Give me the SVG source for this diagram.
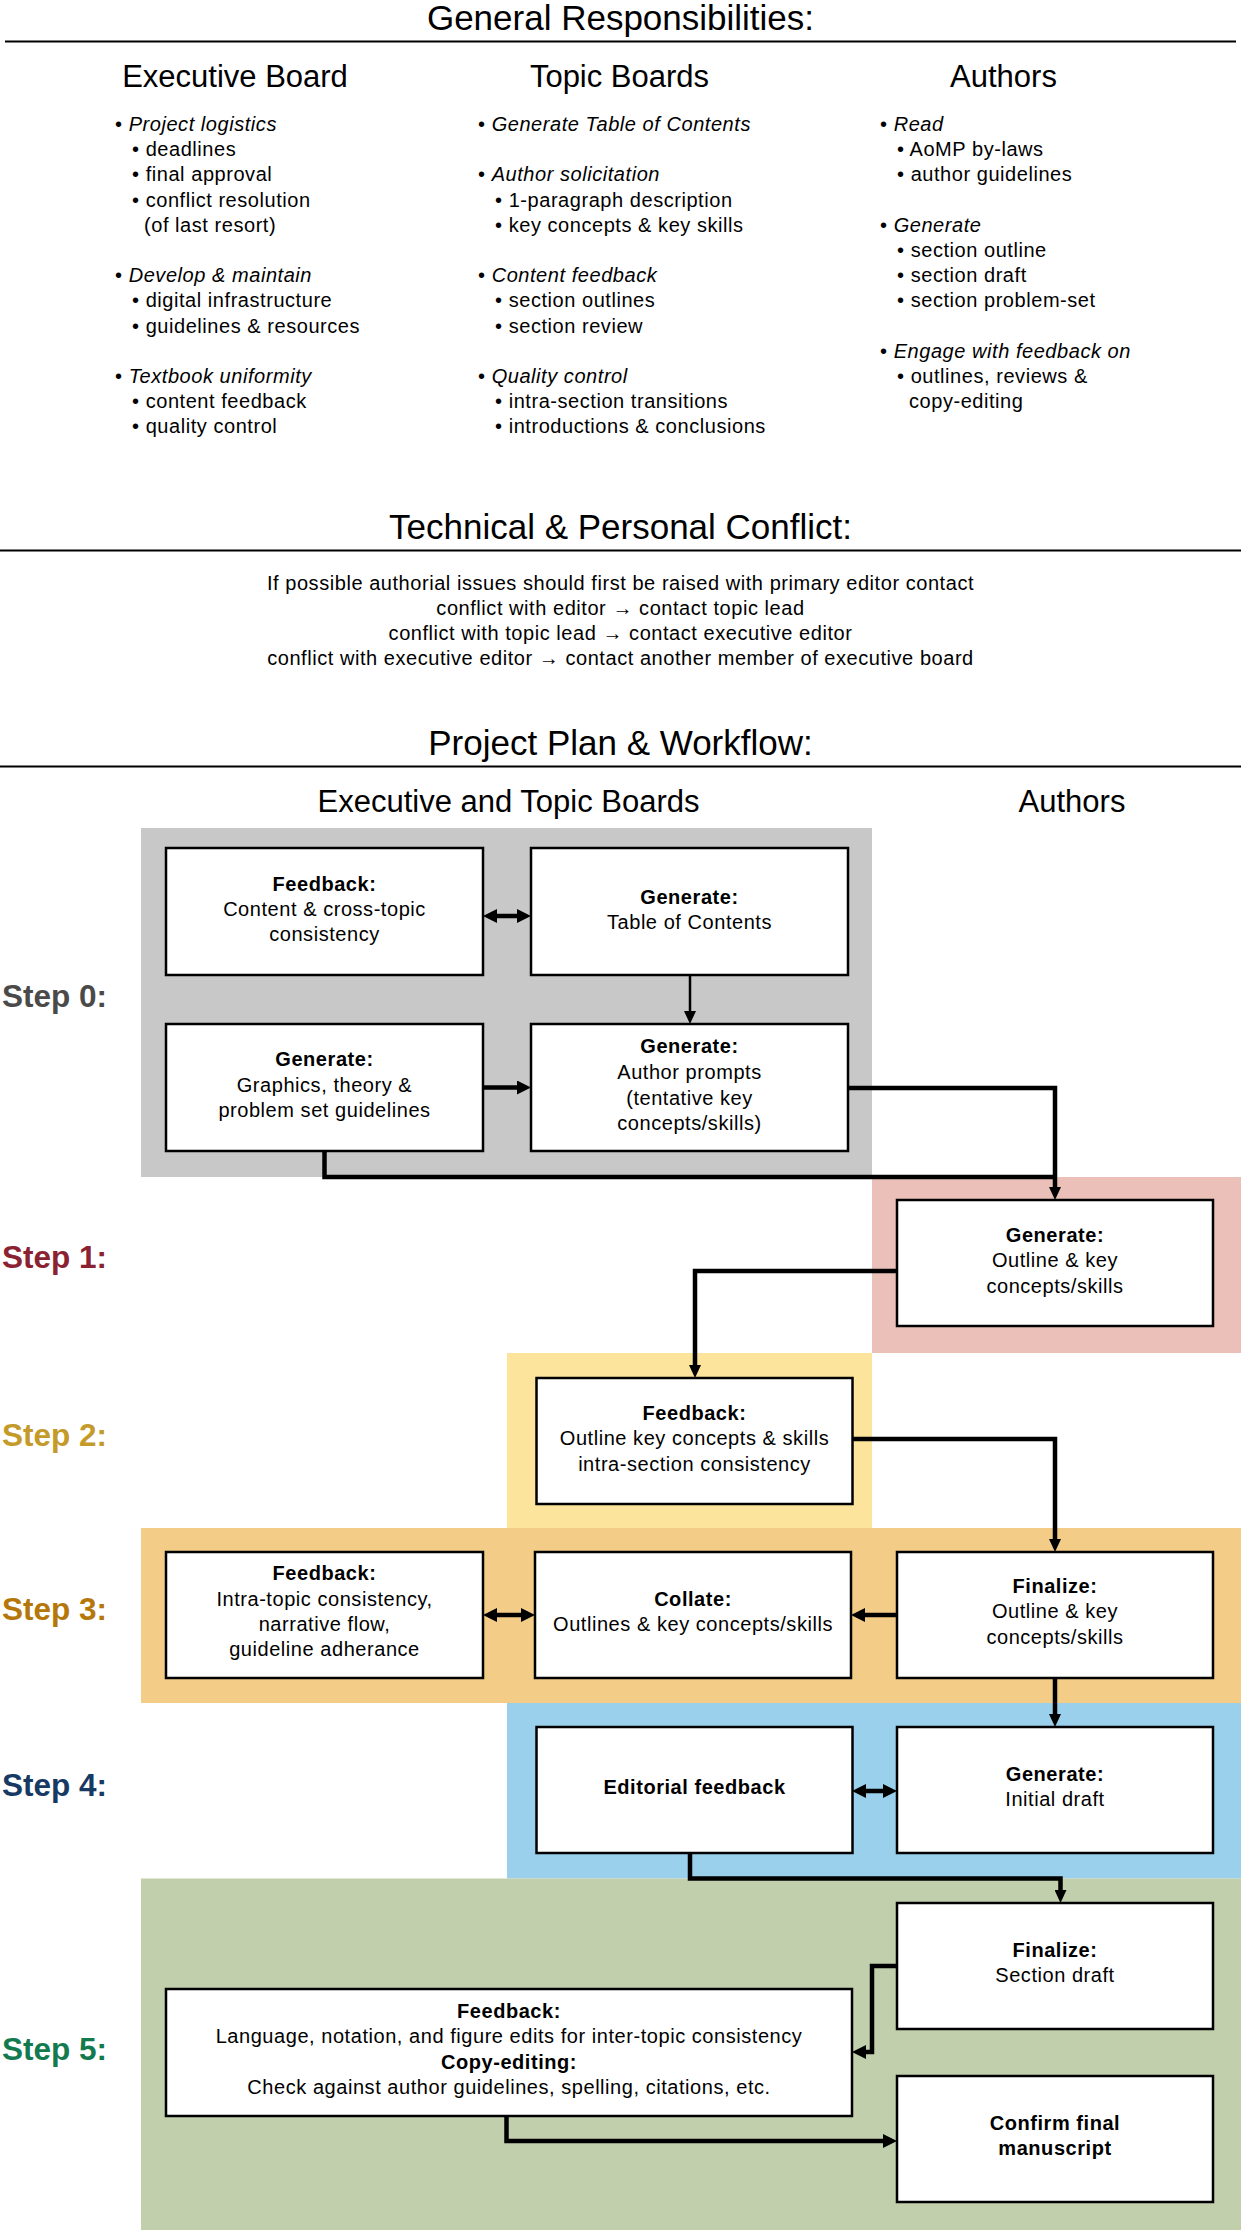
<svg xmlns="http://www.w3.org/2000/svg" width="1241" height="2230" viewBox="0 0 1241 2230">
<style>
text{font-family:"Liberation Sans",Arial,Helvetica,sans-serif;fill:#000}
.h1{font-size:35px;text-anchor:middle}
.h2{font-size:31px;text-anchor:middle}
.b{font-size:20px;letter-spacing:0.55px}
.c{font-size:20px;letter-spacing:0.55px;text-anchor:middle}
.bold{font-weight:bold}
.i{font-style:italic}
.step{font-size:31.5px;font-weight:bold}
.box{fill:#fff;stroke:#000;stroke-width:2.5}
.rule{stroke:#000;stroke-width:2.2}
.con{fill:none;stroke:#000;stroke-width:4.5;stroke-linejoin:miter}
.thin{fill:none;stroke:#000;stroke-width:2.5}
</style>
<defs>
<marker id="ah" markerUnits="userSpaceOnUse" markerWidth="14" markerHeight="14" refX="0" refY="7" orient="auto-start-reverse">
<path d="M0,0 L14,7 L0,14 z" fill="#000"/>
</marker>
<marker id="ahs" markerUnits="userSpaceOnUse" markerWidth="13" markerHeight="12" refX="0" refY="6" orient="auto">
<path d="M0,0 L13,6 L0,12 z" fill="#000"/>
</marker>
</defs>

<!-- Section 1 -->
<g id="general">
<text class="h1" x="620.5" y="30">General Responsibilities:</text>
<line class="rule" x1="5" y1="41.5" x2="1236" y2="41.5"/>
<text class="h2" x="235" y="87">Executive Board</text>
<text class="h2" x="619.5" y="87">Topic Boards</text>
<text class="h2" x="1003.5" y="87">Authors</text>
</g>
<g id="col-exec">
<text class="b" x="115" y="131">• <tspan class="i">Project logistics</tspan></text>
<text class="b" x="132" y="156.2">• deadlines</text>
<text class="b" x="132" y="181.4">• final approval</text>
<text class="b" x="132" y="206.6">• conflict resolution</text>
<text class="b" x="144" y="231.8">(of last resort)</text>
<text class="b" x="115" y="282.2">• <tspan class="i">Develop &amp; maintain</tspan></text>
<text class="b" x="132" y="307.4">• digital infrastructure</text>
<text class="b" x="132" y="332.6">• guidelines &amp; resources</text>
<text class="b" x="115" y="383">• <tspan class="i">Textbook uniformity</tspan></text>
<text class="b" x="132" y="408.2">• content feedback</text>
<text class="b" x="132" y="433.4">• quality control</text>
</g>
<g id="col-topic">
<text class="b" x="478" y="131">• <tspan class="i">Generate Table of Contents</tspan></text>
<text class="b" x="478" y="181.4">• <tspan class="i">Author solicitation</tspan></text>
<text class="b" x="495" y="206.6">• 1-paragraph description</text>
<text class="b" x="495" y="231.8">• key concepts &amp; key skills</text>
<text class="b" x="478" y="282.2">• <tspan class="i">Content feedback</tspan></text>
<text class="b" x="495" y="307.4">• section outlines</text>
<text class="b" x="495" y="332.6">• section review</text>
<text class="b" x="478" y="383">• <tspan class="i">Quality control</tspan></text>
<text class="b" x="495" y="408.2">• intra-section transitions</text>
<text class="b" x="495" y="433.4">• introductions &amp; conclusions</text>
</g>
<g id="col-authors">
<text class="b" x="880" y="131">• <tspan class="i">Read</tspan></text>
<text class="b" x="897" y="156.2">• AoMP by-laws</text>
<text class="b" x="897" y="181.4">• author guidelines</text>
<text class="b" x="880" y="231.8">• <tspan class="i">Generate</tspan></text>
<text class="b" x="897" y="257">• section outline</text>
<text class="b" x="897" y="282.2">• section draft</text>
<text class="b" x="897" y="307.4">• section problem-set</text>
<text class="b" x="880" y="357.8">• <tspan class="i">Engage with feedback on</tspan></text>
<text class="b" x="897" y="383">• outlines, reviews &amp;</text>
<text class="b" x="909" y="408.2">copy-editing</text>
</g>

<!-- Section 2 -->
<g id="conflict">
<text class="h1" x="620.5" y="539">Technical &amp; Personal Conflict:</text>
<line class="rule" x1="0" y1="550.5" x2="1241" y2="550.5"/>
<text class="c" x="620.5" y="589.7">If possible authorial issues should first be raised with primary editor contact</text>
<text class="c" x="620.5" y="614.7">conflict with editor → contact topic lead</text>
<text class="c" x="620.5" y="640.2">conflict with topic lead → contact executive editor</text>
<text class="c" x="620.5" y="665.3">conflict with executive editor → contact another member of executive board</text>
</g>

<!-- Section 3 -->
<g id="workflow-head">
<text class="h1" x="620.5" y="755">Project Plan &amp; Workflow:</text>
<line class="rule" x1="0" y1="766.5" x2="1241" y2="766.5"/>
<text class="h2" x="508.5" y="812">Executive and Topic Boards</text>
<text class="h2" x="1072" y="812">Authors</text>
</g>

<g id="regions">
<rect x="141" y="828" width="731" height="349" fill="#c8c8c8"/>
<rect x="872" y="1177" width="369" height="176" fill="#ebc0b9"/>
<rect x="507" y="1353" width="365" height="175" fill="#fde49c"/>
<rect x="141" y="1528" width="1100" height="175" fill="#f3cd88"/>
<rect x="507" y="1703" width="734" height="175.5" fill="#9bd0ec"/>
<rect x="141" y="1878.5" width="1100" height="351.5" fill="#c2cfac"/>
</g>

<g id="step-labels">
<text class="step" x="2" y="1007" style="fill:#4a4a4a">Step 0:</text>
<text class="step" x="2" y="1267.5" style="fill:#8b2232">Step 1:</text>
<text class="step" x="2" y="1445.5" style="fill:#c49a2a">Step 2:</text>
<text class="step" x="2" y="1620" style="fill:#b5770a">Step 3:</text>
<text class="step" x="2" y="1796" style="fill:#163a63">Step 4:</text>
<text class="step" x="2" y="2060" style="fill:#137a4f">Step 5:</text>
</g>

<g id="connectors">
<line class="con" x1="497" y1="916" x2="517" y2="916" marker-start="url(#ah)" marker-end="url(#ah)"/>
<line class="thin" x1="690" y1="975" x2="690" y2="1011" marker-end="url(#ahs)"/>
<line class="con" x1="483" y1="1087.5" x2="517" y2="1087.5" marker-end="url(#ah)"/>
<path class="con" d="M848,1088 H1055 V1187" marker-end="url(#ahs)"/>
<path class="con" d="M324.5,1151 V1177 H1055"/>
<path class="con" d="M897,1271 H695 V1365" marker-end="url(#ahs)"/>
<path class="con" d="M852,1439 H1055 V1539" marker-end="url(#ahs)"/>
<line class="con" x1="897" y1="1615" x2="865" y2="1615" marker-end="url(#ah)"/>
<line class="con" x1="497" y1="1615" x2="521" y2="1615" marker-start="url(#ah)" marker-end="url(#ah)"/>
<line class="con" x1="1055" y1="1678" x2="1055" y2="1714" marker-end="url(#ahs)"/>
<line class="con" x1="866" y1="1791" x2="883" y2="1791" marker-start="url(#ah)" marker-end="url(#ah)"/>
<path class="con" d="M690,1853 V1878.5 H1060.5 V1890" marker-end="url(#ahs)"/>
<path class="con" d="M897,1966 H872 V2052 H866" marker-end="url(#ah)"/>
<path class="con" d="M506.5,2116 V2141 H883" marker-end="url(#ah)"/>
</g>

<g id="n-feedback0">
<rect class="box" x="166" y="848" width="317" height="127"/>
<text class="c bold" x="324.5" y="891">Feedback:</text>
<text class="c" x="324.5" y="916">Content &amp; cross-topic</text>
<text class="c" x="324.5" y="941">consistency</text>
</g>
<g id="n-toc">
<rect class="box" x="531" y="848" width="317" height="127"/>
<text class="c bold" x="689.5" y="903.5">Generate:</text>
<text class="c" x="689.5" y="928.5">Table of Contents</text>
</g>
<g id="n-graphics">
<rect class="box" x="166" y="1024" width="317" height="127"/>
<text class="c bold" x="324.5" y="1066">Generate:</text>
<text class="c" x="324.5" y="1091.5">Graphics, theory &amp;</text>
<text class="c" x="324.5" y="1117">problem set guidelines</text>
</g>
<g id="n-prompts">
<rect class="box" x="531" y="1024" width="317" height="127"/>
<text class="c bold" x="689.5" y="1053">Generate:</text>
<text class="c" x="689.5" y="1079">Author prompts</text>
<text class="c" x="689.5" y="1104.5">(tentative key</text>
<text class="c" x="689.5" y="1129.5">concepts/skills)</text>
</g>
<g id="n-outline1">
<rect class="box" x="897" y="1200" width="316" height="126"/>
<text class="c bold" x="1055" y="1242">Generate:</text>
<text class="c" x="1055" y="1267">Outline &amp; key</text>
<text class="c" x="1055" y="1292.5">concepts/skills</text>
</g>
<g id="n-feedback2">
<rect class="box" x="536.5" y="1378" width="316" height="126"/>
<text class="c bold" x="694.5" y="1420">Feedback:</text>
<text class="c" x="694.5" y="1445">Outline key concepts &amp; skills</text>
<text class="c" x="694.5" y="1471">intra-section consistency</text>
</g>
<g id="n-feedback3">
<rect class="box" x="166" y="1552" width="317" height="126"/>
<text class="c bold" x="324.5" y="1580">Feedback:</text>
<text class="c" x="324.5" y="1606">Intra-topic consistency,</text>
<text class="c" x="324.5" y="1631">narrative flow,</text>
<text class="c" x="324.5" y="1656">guideline adherance</text>
</g>
<g id="n-collate">
<rect class="box" x="535" y="1552" width="316" height="126"/>
<text class="c bold" x="693" y="1606">Collate:</text>
<text class="c" x="693" y="1631">Outlines &amp; key concepts/skills</text>
</g>
<g id="n-finalize3">
<rect class="box" x="897" y="1552" width="316" height="126"/>
<text class="c bold" x="1055" y="1592.5">Finalize:</text>
<text class="c" x="1055" y="1618">Outline &amp; key</text>
<text class="c" x="1055" y="1643.5">concepts/skills</text>
</g>
<g id="n-editorial">
<rect class="box" x="536.5" y="1727" width="316" height="126"/>
<text class="c bold" x="694.5" y="1793.5">Editorial feedback</text>
</g>
<g id="n-draft">
<rect class="box" x="897" y="1727" width="316" height="126"/>
<text class="c bold" x="1055" y="1781">Generate:</text>
<text class="c" x="1055" y="1806">Initial draft</text>
</g>
<g id="n-finalize5">
<rect class="box" x="897" y="1903" width="316" height="126"/>
<text class="c bold" x="1055" y="1957">Finalize:</text>
<text class="c" x="1055" y="1982">Section draft</text>
</g>
<g id="n-feedback5">
<rect class="box" x="166" y="1989" width="686" height="127"/>
<text class="c bold" x="509" y="2018">Feedback:</text>
<text class="c" x="509" y="2043">Language, notation, and figure edits for inter-topic consistency</text>
<text class="c bold" x="509" y="2068.5">Copy-editing:</text>
<text class="c" x="509" y="2093.5">Check against author guidelines, spelling, citations, etc.</text>
</g>
<g id="n-confirm">
<rect class="box" x="897" y="2076" width="316" height="126"/>
<text class="c bold" x="1055" y="2129.5">Confirm final</text>
<text class="c bold" x="1055" y="2155">manuscript</text>
</g>
</svg>
